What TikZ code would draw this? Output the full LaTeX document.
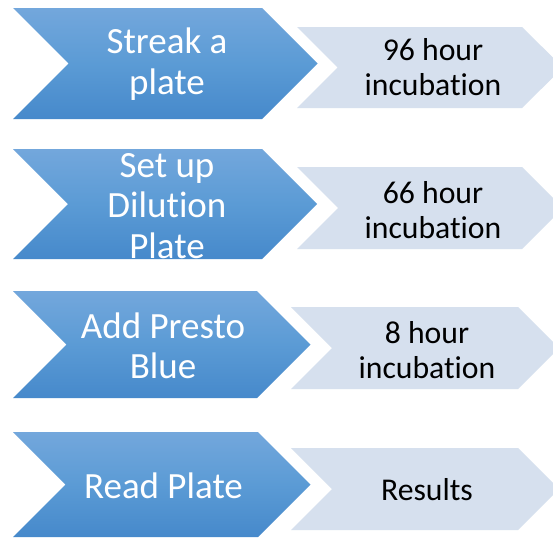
\documentclass[tikz,border=0pt]{standalone}
\usepackage{fontspec}
\setmainfont[RawFeature={-liga,-clig,-calt,-dlig}]{Carlito}
\definecolor{steptop}{RGB}{115,167,220}
\definecolor{stepmid}{RGB}{91,155,213}
\definecolor{stepbot}{RGB}{70,137,203}
\definecolor{waitfill}{RGB}{214,224,238}

\begin{document}
\begin{tikzpicture}[x=1pt,y=-1pt,
    stepshape/.style={top color=steptop,bottom color=stepbot,middle color=stepmid},
    waitshape/.style={fill=waitfill},
    steptext/.style={text=white,align=center,inner sep=0pt,
        font={\fontsize{37}{40.5}\selectfont}},
    waittext/.style={text=black,align=center,inner sep=0pt,
        font={\fontsize{31.7}{35}\selectfont}},
    ]

    % Page frame
    \clip (0,0) rectangle (553,538);
    \fill[white] (0,0) rectangle (553,538);

    % First row
    \shade[stepshape] (13,8)--(262,8)--(317.5,63.5)--(262,119)--(13,119)--(68.5,63.5)--cycle;
    \fill[waitshape] (297,27)--(522,27)--(563,67.5)--(522,108)--(297,108)--(337.5,67.5)--cycle;
    \node[steptext] (streak) at (167,64) {Streak a\\plate};
    \node[waittext] (inc96) at (433,67) {96 hour\\incubation};

    % Second row
    \shade[stepshape] (13,149)--(262,149)--(317,204)--(262,259)--(13,259)--(68,204)--cycle;
    \fill[waitshape] (297,167)--(522,167)--(563,208)--(522,249)--(297,249)--(338,208)--cycle;
    \node[steptext] (dilution) at (167,206) {Set up\\Dilution\\Plate};
    \node[waittext] (inc66) at (433,210) {66 hour\\incubation};

    % Third row
    \shade[stepshape] (13,291)--(257,291)--(310.5,344.5)--(257,398)--(13,398)--(66.5,344.5)--cycle;
    \fill[waitshape] (291,307)--(518,307)--(559,348)--(518,389)--(291,389)--(332,348)--cycle;
    \node[steptext] (presto) at (163,346) {Add Presto\\Blue};
    \node[waittext] (inc8) at (427,350) {8 hour\\incubation};

    % Fourth row
    \shade[stepshape] (13,432)--(258,432)--(310.5,484.5)--(258,537)--(13,537)--(65.5,484.5)--cycle;
    \fill[waitshape] (291,448)--(518,448)--(559,489)--(518,530)--(291,530)--(332,489)--cycle;
    \node[steptext] (read) at (163.5,486) {Read Plate};
    \node[waittext] (results) at (427,490) {Results};
\end{tikzpicture}
\end{document}
